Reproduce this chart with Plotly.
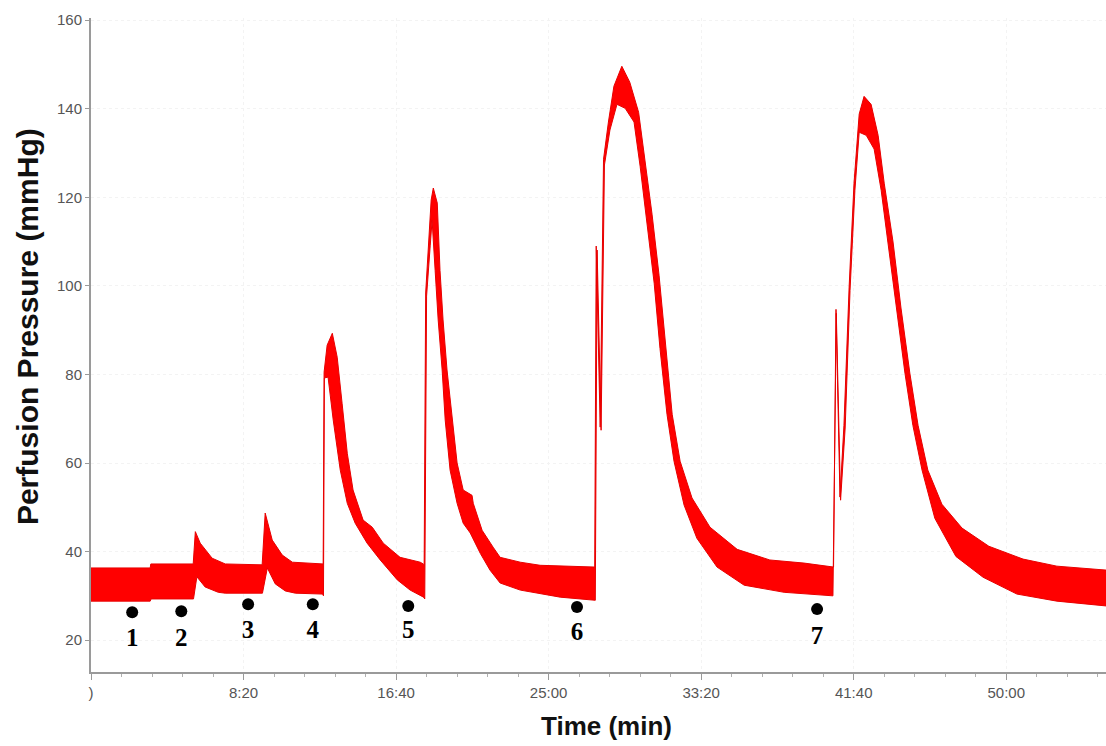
import plotly.graph_objects as go

# ---- data (time in seconds, pressure in mmHg) ----
upper_t = [0, 194, 196, 335, 342, 358, 397, 440, 561, 571, 594, 627, 660, 758,
           761, 764, 774, 791, 800, 807, 823, 840, 859, 892, 922, 958, 1013, 1079, 1089,
           1092, 1097, 1108, 1115, 1122, 1135, 1144, 1154, 1167, 1184, 1200, 1220, 1249,
           1253, 1282, 1318, 1341, 1407, 1472, 1651,
           1656, 1669, 1680, 1696, 1714, 1740, 1766, 1795, 1815, 1839, 1862, 1882, 1905,
           1931, 1970, 2029, 2118, 2225, 2337, 2434,
           2442, 2455, 2468, 2485, 2501, 2518, 2534, 2557, 2580, 2600, 2629, 2655, 2684,
           2711, 2743, 2789, 2855, 2943, 3055, 3166, 3330]
upper_p = [36.3, 36.3, 37.2, 37.2, 44.5, 41.9, 38.5, 37.2, 37.0, 48.7, 42.6, 39.2, 37.6, 37.2,
           37.2, 80.5, 86.6, 89.3, 86.5, 83.9, 73.5, 62.2, 53.9, 47.1, 45.5, 41.9, 38.7, 37.6, 37.2,
           37.0, 98.4, 110.3, 119.4, 122.1, 118.7, 103.5, 92.3, 81.0, 69.7, 60.0, 53.9, 52.7,
           50.9, 44.8, 41.0, 38.7, 37.6, 36.9, 36.5,
           109.0, 68.1, 128.6, 137.0, 145.1, 149.6, 146.0, 139.2, 128.6, 116.2, 102.4, 87.5, 71.0,
           60.4, 52.1, 45.5, 40.5, 38.1, 37.4, 36.5,
           94.7, 52.3, 68.5, 99.7, 123.2, 138.8, 142.8, 141.0, 134.0, 123.2, 109.9, 95.0, 80.3,
           68.5, 58.4, 50.7, 45.3, 41.2, 38.3, 36.7, 35.8]

lower_t = [0, 194, 197, 336, 347, 374, 417, 440, 562, 578, 604, 637, 670, 759,
           762, 765, 777, 794, 817, 840, 866, 905, 948, 1004, 1046, 1090,
           1094, 1100, 1112, 1118, 1128, 1138, 1151, 1161, 1177, 1200, 1220, 1243, 1276,
           1308, 1341, 1407, 1538, 1653,
           1659, 1672, 1683, 1701, 1724, 1751, 1780, 1800, 1822, 1846, 1865, 1888, 1911,
           1944, 1986, 2052, 2141, 2272, 2432,
           2443, 2457, 2472, 2488, 2504, 2518, 2541, 2567, 2590, 2612, 2639, 2668, 2694,
           2724, 2766, 2835, 2924, 3035, 3166, 3330]
lower_p = [28.8, 28.8, 29.3, 29.3, 34.3, 32.0, 30.8, 30.6, 30.6, 36.3, 32.7, 31.1, 30.6, 30.4,
           30.0, 79.2, 79.4, 69.7, 58.4, 50.9, 46.4, 41.9, 38.1, 33.6, 31.3, 29.7,
           29.3, 97.7, 109.2, 114.8, 103.5, 92.3, 81.0, 69.7, 58.4, 50.9, 46.4, 44.2, 39.6,
           35.8, 32.9, 31.3, 29.7, 29.0,
           108.1, 67.4, 127.3, 135.2, 141.0, 140.1, 137.0, 127.0, 114.6, 100.6, 85.9, 71.0, 60.4,
           50.5, 43.0, 36.5, 32.4, 30.8, 30.0,
           93.8, 51.6, 67.9, 99.0, 121.6, 134.7, 134.0, 130.9, 121.6, 109.9, 95.0, 80.3, 68.5,
           58.4, 47.5, 38.9, 34.2, 30.4, 28.8, 27.7]

marker_t = [135, 296, 515, 727, 1040, 1593, 2380]
marker_p = [26.3, 26.5, 28.1, 28.1, 27.7, 27.5, 27.0]
label_p = [20.0, 20.0, 22.0, 22.0, 21.8, 21.5, 20.5]
marker_labels = ["1", "2", "3", "4", "5", "6", "7"]

tick_vals = [0, 500, 1000, 1500, 2000, 2500, 3000]
tick_text = [")", "8:20", "16:40", "25:00", "33:20", "41:40", "50:00"]
y_ticks = [20, 40, 60, 80, 100, 120, 140, 160]

fig = go.Figure()

fig.add_trace(go.Scatter(
    x=upper_t + lower_t[::-1],
    y=upper_p + lower_p[::-1],
    mode="lines", fill="toself",
    fillcolor="#ff0000",
    line=dict(color="#e80000", width=1),
    hoverinfo="skip", showlegend=False))

fig.add_trace(go.Scatter(
    x=marker_t, y=marker_p, mode="markers",
    marker=dict(color="black", size=12),
    showlegend=False))

fig.add_trace(go.Scatter(
    x=marker_t, y=label_p, mode="text", text=marker_labels,
    textfont=dict(family="Liberation Serif, Times New Roman, serif", size=25,
                  color="black", weight="bold"),
    showlegend=False))

axis_font = dict(family="Liberation Sans, Arial, sans-serif", size=15, color="#555555")

fig.update_xaxes(
    range=[0, 3327], showline=True, linecolor="#9a9a9a", linewidth=2,
    tickmode="array", tickvals=tick_vals, ticktext=tick_text,
    ticks="outside", ticklen=6, tickcolor="#9a9a9a", tickfont=axis_font,
    minor=dict(dtick=100, ticks="outside", ticklen=3, tickcolor="#b0b0b0", showgrid=False),
    showgrid=True, gridcolor="#f3f3f3", griddash="dot", zeroline=False)

fig.update_yaxes(
    range=[12.8, 160.5], showline=True, linecolor="#9a9a9a", linewidth=2,
    tickmode="array", tickvals=y_ticks,
    ticks="outside", ticklen=4, tickcolor="#9a9a9a", tickfont=axis_font,
    showgrid=True, gridcolor="#f3f3f3", griddash="dot", zeroline=False)

fig.add_annotation(text="Perfusion Pressure (mmHg)", xref="paper", yref="paper",
                   x=-0.063, y=0.5275, xanchor="center", yanchor="middle",
                   textangle=-90, showarrow=False,
                   font=dict(family="Liberation Sans, Arial, sans-serif", size=30,
                             color="#111111", weight="bold"))
fig.add_annotation(text="Time (min)", xref="paper", yref="paper",
                   x=0.508, y=-0.083, xanchor="center", yanchor="middle",
                   showarrow=False,
                   font=dict(family="Liberation Sans, Arial, sans-serif", size=26,
                             color="#111111", weight="bold"))

fig.update_layout(
    width=1106, height=746,
    margin=dict(l=91, r=0, t=18, b=74),
    plot_bgcolor="white", paper_bgcolor="white",
    showlegend=False)

fig.write_html("out.html",
               config={"displayModeBar": False},
               post_script="document.body.style.margin='0px';"
                           "document.body.style.overflow='hidden';")
